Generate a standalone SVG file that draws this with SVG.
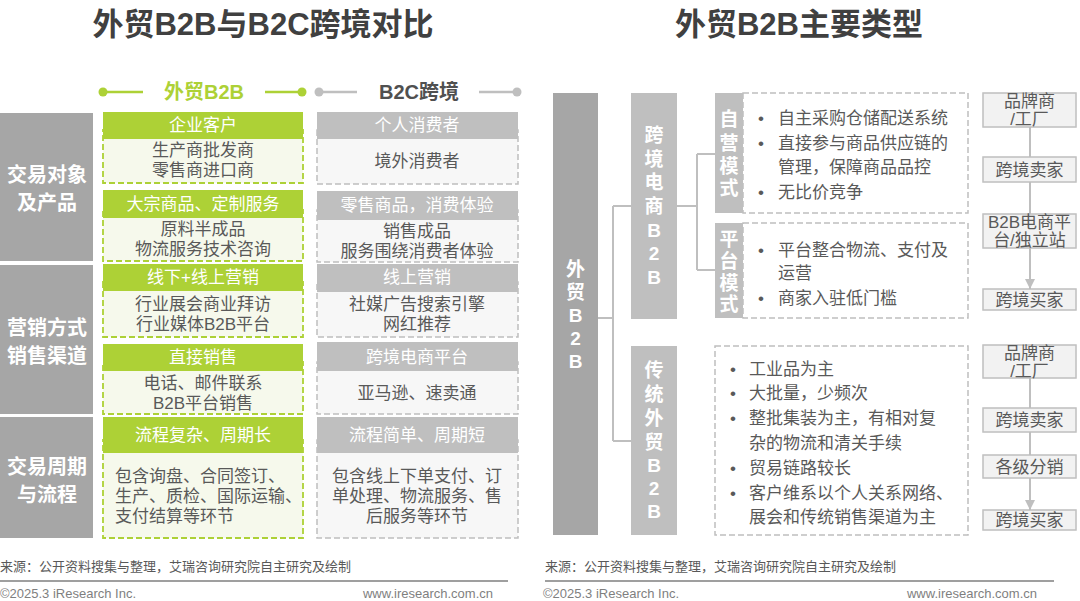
<svg xmlns="http://www.w3.org/2000/svg" width="1080" height="601" viewBox="0 0 1080 601">
<style>
text{font-family:"Liberation Sans","Noto Sans CJK SC",sans-serif;dominant-baseline:central}
.t{font-size:31px;font-weight:bold;fill:#404040;text-anchor:middle}
.lb{fill:#a6a6a6}
.lt{font-size:20px;font-weight:bold;fill:#fff;text-anchor:middle}
.gh{fill:#add136}
.gb{fill:#f6f9ec;stroke:#add136;stroke-width:1.8;stroke-dasharray:6 3}
.hh{fill:#bfbfbf}
.hb{fill:#f7f7f7;stroke:#bfbfbf;stroke-width:1.5;stroke-dasharray:6 3}
.ht{font-size:17px;fill:#fff;text-anchor:middle}
.bt{font-size:17px;fill:#595959;text-anchor:middle}
.bl{font-size:17px;fill:#595959}
.mb{fill:#bfbfbf}
.vt{font-size:19px;font-weight:bold;fill:#fff;text-anchor:middle}
.db{fill:#fff;stroke:#bfbfbf;stroke-width:1.5;stroke-dasharray:6 3}
.fb{fill:#f2f2f2;stroke:#bfbfbf;stroke-width:1.5}
.ft{font-size:17px;fill:#595959;text-anchor:middle}
.cn{stroke:#bfbfbf;stroke-width:2;fill:none}
.src{font-size:13px;fill:#595959}
.cp{font-size:13px;fill:#7f7f7f;font-family:"Liberation Sans",sans-serif}
.fl{stroke:#7f7f7f;stroke-width:1.5}
</style>
<defs>
<marker id="ar" viewBox="0 0 10 10" refX="10" refY="5" markerWidth="11" markerHeight="10" markerUnits="userSpaceOnUse" orient="auto"><path d="M0,0 L10,5 L0,10 z" fill="#bfbfbf"/></marker>
</defs>
<rect width="1080" height="601" fill="#fff"/>

<!-- Titles -->
<text id="title-left" class="t" x="263" y="24">外贸B2B与B2C跨境对比</text>
<text id="title-right" class="t" x="799" y="24">外贸B2B主要类型</text>

<!-- Column headers -->
<g id="hdr-b2b">
<circle cx="103" cy="92" r="4.5" fill="#add136"/>
<line x1="103" y1="92" x2="143" y2="92" stroke="#add136" stroke-width="2.5"/>
<text x="204" y="92" font-size="20" font-weight="bold" fill="#add136" text-anchor="middle">外贸B2B</text>
<line x1="265" y1="92" x2="302" y2="92" stroke="#add136" stroke-width="2.5"/>
<circle cx="302" cy="92" r="4.5" fill="#add136"/>
</g>
<g id="hdr-b2c">
<circle cx="319" cy="92" r="4.5" fill="#bfbfbf"/>
<line x1="319" y1="92" x2="357" y2="92" stroke="#bfbfbf" stroke-width="2.5"/>
<text x="419" y="92" font-size="20" font-weight="bold" fill="#505050" text-anchor="middle">B2C跨境</text>
<line x1="479" y1="92" x2="517" y2="92" stroke="#bfbfbf" stroke-width="2.5"/>
<circle cx="517" cy="92" r="4.5" fill="#bfbfbf"/>
</g>

<!-- Row labels -->
<g id="row1-label"><rect class="lb" x="0" y="113" width="93" height="148"/>
<text class="lt" x="47" y="175">交易对象</text><text class="lt" x="47" y="203">及产品</text></g>
<g id="row2-label"><rect class="lb" x="0" y="265" width="93" height="149"/>
<text class="lt" x="47" y="328">营销方式</text><text class="lt" x="47" y="356">销售渠道</text></g>
<g id="row3-label"><rect class="lb" x="0" y="417" width="93" height="121"/>
<text class="lt" x="47" y="467">交易周期</text><text class="lt" x="47" y="495">与流程</text></g>

<!-- Row 1 -->
<g id="b2b-customer"><rect class="gb" x="103" y="130" width="200" height="53"/><rect class="gh" x="103" y="112" width="200" height="27"/>
<text class="ht" x="203" y="125.5">企业客户</text>
<text class="bt" x="203" y="150">生产商批发商</text><text class="bt" x="203" y="170">零售商进口商</text></g>
<g id="b2b-product"><rect class="gb" x="103" y="210" width="200" height="51"/><rect class="gh" x="103" y="190" width="200" height="28"/>
<text class="ht" x="203" y="204">大宗商品、定制服务</text>
<text class="bt" x="203" y="229">原料半成品</text><text class="bt" x="203" y="249">物流服务技术咨询</text></g>
<g id="b2c-customer"><rect class="hb" x="317" y="130" width="201" height="54"/><rect class="hh" x="317" y="112" width="201" height="27"/>
<text class="ht" x="417" y="125.5">个人消费者</text>
<text class="bt" x="417" y="161">境外消费者</text></g>
<g id="b2c-product"><rect class="hb" x="317" y="210" width="201" height="52"/><rect class="hh" x="317" y="191" width="201" height="29"/>
<text class="ht" x="417" y="205">零售商品，消费体验</text>
<text class="bt" x="417" y="231">销售成品</text><text class="bt" x="417" y="251">服务围绕消费者体验</text></g>

<!-- Row 2 -->
<g id="b2b-marketing"><rect class="gb" x="103" y="282" width="200" height="55"/><rect class="gh" x="103" y="264" width="200" height="27"/>
<text class="ht" x="203" y="277.5">线下+线上营销</text>
<text class="bt" x="203" y="304">行业展会商业拜访</text><text class="bt" x="203" y="324">行业媒体B2B平台</text></g>
<g id="b2b-channel"><rect class="gb" x="103" y="362" width="200" height="52"/><rect class="gh" x="103" y="344" width="200" height="27"/>
<text class="ht" x="203" y="357.5">直接销售</text>
<text class="bt" x="203" y="383">电话、邮件联系</text><text class="bt" x="203" y="403">B2B平台销售</text></g>
<g id="b2c-marketing"><rect class="hb" x="317" y="282" width="201" height="55"/><rect class="hh" x="317" y="264" width="201" height="28"/>
<text class="ht" x="417" y="277.5">线上营销</text>
<text class="bt" x="417" y="304">社媒广告搜索引擎</text><text class="bt" x="417" y="324">网红推荐</text></g>
<g id="b2c-channel"><rect class="hb" x="317" y="362" width="201" height="52"/><rect class="hh" x="317" y="342" width="201" height="29"/>
<text class="ht" x="417" y="357">跨境电商平台</text>
<text class="bt" x="417" y="393">亚马逊、速卖通</text></g>

<!-- Row 3 -->
<g id="b2b-cycle"><rect class="gb" x="103" y="440" width="200" height="98"/><rect class="gh" x="103" y="417" width="200" height="36"/>
<text class="ht" x="203" y="435">流程复杂、周期长</text>
<text class="bl" x="115" y="476">包含询盘、合同签订、</text>
<text class="bl" x="115" y="496">生产、质检、国际运输、</text>
<text class="bl" x="115" y="516">支付结算等环节</text></g>
<g id="b2c-cycle"><rect class="hb" x="317" y="440" width="201" height="98"/><rect class="hh" x="317" y="417" width="201" height="36"/>
<text class="ht" x="417" y="435">流程简单、周期短</text>
<text class="bt" x="417" y="476">包含线上下单支付、订</text>
<text class="bt" x="417" y="496">单处理、物流服务、售</text>
<text class="bt" x="417" y="516">后服务等环节</text></g>

<!-- Right: tree -->
<g id="connectors">
<path class="cn" d="M598,318 H613 M613,206 V441 M613,206 H631 M613,441 H631"/>
<path class="cn" d="M677,206 H697 M697,154 V270 M697,154 H715 M697,270 H715"/>
<line class="cn" x1="1030" y1="127" x2="1030" y2="157"/>
<line class="cn" x1="1030" y1="182" x2="1030" y2="214"/>
<line class="cn" x1="1030" y1="248" x2="1030" y2="289" marker-end="url(#ar)"/>
<line class="cn" x1="1030" y1="378" x2="1030" y2="408"/>
<line class="cn" x1="1030" y1="432" x2="1030" y2="455"/>
<line class="cn" x1="1030" y1="478" x2="1030" y2="510" marker-end="url(#ar)"/>
</g>

<g id="root-b2b"><rect fill="#a6a6a6" x="553" y="93" width="45" height="442"/>
<text class="vt" font-size="20"><tspan x="575.5" y="269">外</tspan><tspan x="575.5" y="292">贸</tspan><tspan x="575.5" y="315">B</tspan><tspan x="575.5" y="338">2</tspan><tspan x="575.5" y="361">B</tspan></text></g>

<g id="cross-border-b2b"><rect class="mb" x="631" y="93" width="46" height="226"/>
<text class="vt"><tspan x="654" y="135">跨</tspan><tspan x="654" y="159">境</tspan><tspan x="654" y="182">电</tspan><tspan x="654" y="206">商</tspan><tspan x="654" y="230">B</tspan><tspan x="654" y="253">2</tspan><tspan x="654" y="277">B</tspan></text></g>

<g id="traditional-b2b"><rect class="mb" x="631" y="346" width="46" height="189"/>
<text class="vt"><tspan x="654" y="370">传</tspan><tspan x="654" y="394">统</tspan><tspan x="654" y="418">外</tspan><tspan x="654" y="442">贸</tspan><tspan x="654" y="465">B</tspan><tspan x="654" y="488">2</tspan><tspan x="654" y="511">B</tspan></text></g>

<g id="self-operated"><rect class="db" x="743" y="93" width="225" height="120"/><rect class="mb" x="715" y="93" width="28" height="120"/>
<text class="vt" font-size="18"><tspan x="729" y="119">自</tspan><tspan x="729" y="143">营</tspan><tspan x="729" y="166">模</tspan><tspan x="729" y="188">式</tspan></text>
<text class="bl" x="758" y="118">•</text><text class="bl" x="778" y="118">自主采购仓储配送系统</text>
<text class="bl" x="758" y="143">•</text><text class="bl" x="778" y="143">直接参与商品供应链的</text>
<text class="bl" x="778" y="167">管理，保障商品品控</text>
<text class="bl" x="758" y="192">•</text><text class="bl" x="778" y="192">无比价竞争</text></g>

<g id="platform"><rect class="db" x="743" y="223" width="225" height="95"/><rect class="mb" x="715" y="223" width="28" height="95"/>
<text class="vt" font-size="18"><tspan x="729" y="239">平</tspan><tspan x="729" y="261">台</tspan><tspan x="729" y="283">模</tspan><tspan x="729" y="304">式</tspan></text>
<text class="bl" x="758" y="250">•</text><text class="bl" x="778" y="250">平台整合物流、支付及</text>
<text class="bl" x="778" y="273">运营</text>
<text class="bl" x="758" y="298">•</text><text class="bl" x="778" y="298">商家入驻低门槛</text></g>

<g id="traditional-desc"><rect class="db" x="715" y="346" width="253" height="189"/>
<text class="bl" x="730" y="369">•</text><text class="bl" x="749" y="369">工业品为主</text>
<text class="bl" x="730" y="393">•</text><text class="bl" x="749" y="393">大批量，少频次</text>
<text class="bl" x="730" y="418">•</text><text class="bl" x="749" y="418">整批集装为主，有相对复</text>
<text class="bl" x="749" y="443">杂的物流和清关手续</text>
<text class="bl" x="730" y="468">•</text><text class="bl" x="749" y="468">贸易链路较长</text>
<text class="bl" x="730" y="493">•</text><text class="bl" x="749" y="493">客户维系以个人关系网络、</text>
<text class="bl" x="749" y="517">展会和传统销售渠道为主</text></g>

<!-- Flow 1 -->
<g id="f1-brand"><rect class="fb" x="983" y="93" width="93" height="34"/><text class="ft" x="1029.5" y="101.5">品牌商</text><text class="ft" x="1029.5" y="119">/工厂</text></g>
<g id="f1-seller"><rect class="fb" x="983" y="157" width="93" height="25"/><text class="ft" x="1029.5" y="170">跨境卖家</text></g>
<g id="f1-platform"><rect class="fb" x="983" y="214" width="93" height="34"/><text class="ft" x="1029.5" y="222.5" font-size="16">B2B电商平</text><text class="ft" x="1029.5" y="240" font-size="16">台/独立站</text></g>
<g id="f1-buyer"><rect class="fb" x="983" y="289" width="93" height="21"/><text class="ft" x="1029.5" y="300">跨境买家</text></g>
<!-- Flow 2 -->
<g id="f2-brand"><rect class="fb" x="983" y="345" width="93" height="33"/><text class="ft" x="1029.5" y="353.5">品牌商</text><text class="ft" x="1029.5" y="371">/工厂</text></g>
<g id="f2-seller"><rect class="fb" x="983" y="408" width="93" height="24"/><text class="ft" x="1029.5" y="420">跨境卖家</text></g>
<g id="f2-dist"><rect class="fb" x="983" y="455" width="93" height="23"/><text class="ft" x="1029.5" y="467">各级分销</text></g>
<g id="f2-buyer"><rect class="fb" x="983" y="510" width="93" height="20"/><text class="ft" x="1029.5" y="520">跨境买家</text></g>

<!-- Footers -->
<text class="src" x="0" y="566">来源：公开资料搜集与整理，艾瑞咨询研究院自主研究及绘制</text>
<line class="fl" x1="0" y1="581" x2="508" y2="581"/>
<text class="cp" x="0" y="593">©2025.3 iResearch Inc.</text>
<text class="cp" x="493" y="593" text-anchor="end">www.iresearch.com.cn</text>

<text class="src" x="545" y="566">来源：公开资料搜集与整理，艾瑞咨询研究院自主研究及绘制</text>
<line class="fl" x1="545" y1="581" x2="1054" y2="581"/>
<text class="cp" x="543" y="593">©2025.3 iResearch Inc.</text>
<text class="cp" x="1037" y="593" text-anchor="end">www.iresearch.com.cn</text>
</svg>
